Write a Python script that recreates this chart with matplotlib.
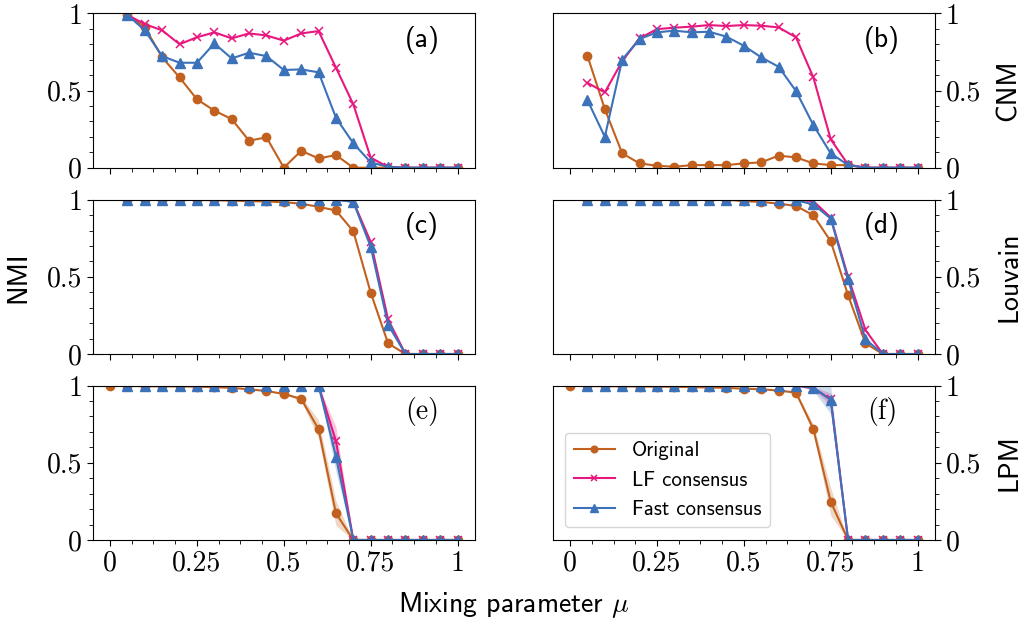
import matplotlib
matplotlib.use("Agg")
import matplotlib.pyplot as plt
from matplotlib.ticker import MultipleLocator

plt.rcParams["font.family"] = "cmss10"
plt.rcParams["mathtext.fontset"] = "cm"
plt.rcParams["axes.formatter.use_mathtext"] = True

# mixing parameter values
mu = [0.05, 0.10, 0.15, 0.20, 0.25, 0.30, 0.35, 0.40, 0.45, 0.50,
      0.55, 0.60, 0.65, 0.70, 0.75, 0.80, 0.85, 0.90, 0.95, 1.00]
mu0 = [0.0] + mu

# (a) CNM
orig_a = [0.99, 0.91, 0.715, 0.585, 0.443, 0.37, 0.315, 0.175, 0.197, 0.0,
          0.11, 0.06, 0.082, 0.0, 0, 0, 0, 0, 0, 0]
lf_a = [0.99, 0.93, 0.89, 0.80, 0.845, 0.877, 0.838, 0.87, 0.857, 0.823,
        0.87, 0.885, 0.648, 0.41, 0.065, 0.005, 0, 0, 0, 0]
fast_a = [0.99, 0.89, 0.723, 0.68, 0.68, 0.805, 0.708, 0.745, 0.723, 0.633,
          0.637, 0.618, 0.324, 0.158, 0.035, 0.005, 0, 0, 0, 0]

# (b) CNM
orig_b = [0.725, 0.38, 0.093, 0.028, 0.013, 0.006, 0.017, 0.017, 0.017, 0.028,
          0.035, 0.078, 0.067, 0.028, 0.017, 0.017, 0, 0, 0, 0]
lf_b = [0.55, 0.488, 0.69, 0.838, 0.898, 0.907, 0.914, 0.924, 0.918, 0.924,
        0.92, 0.909, 0.845, 0.585, 0.184, 0.02, 0, 0, 0, 0]
fast_b = [0.438, 0.20, 0.70, 0.834, 0.877, 0.888, 0.877, 0.881, 0.849, 0.79,
          0.715, 0.654, 0.497, 0.276, 0.093, 0.017, 0, 0, 0, 0]

# (c) Louvain
orig_c = [1.0, 1.0, 1.0, 1.0, 0.998, 0.996, 0.994, 0.99, 0.988, 0.983,
          0.974, 0.953, 0.93, 0.795, 0.397, 0.069, 0, 0, 0, 0]
lf_c = [1, 1, 1, 1, 1, 1, 1, 1, 1, 1,
        1, 1, 1, 0.987, 0.726, 0.224, 0, 0, 0, 0]
fast_c = [1, 1, 1, 1, 1, 1, 1, 1, 1, 1,
          1, 1, 1, 0.985, 0.694, 0.19, 0, 0, 0, 0]

# (d) Louvain
orig_d = [1, 1, 1, 1, 1, 1, 1, 1, 1, 0.99,
          0.985, 0.974, 0.959, 0.899, 0.73, 0.38, 0.069, 0, 0, 0]
lf_d = [1, 1, 1, 1, 1, 1, 1, 1, 1, 1,
        1, 1, 1, 0.99, 0.884, 0.5, 0.155, 0, 0, 0]
fast_d = [1, 1, 1, 1, 1, 1, 1, 1, 1, 1,
          1, 1, 0.995, 0.97, 0.877, 0.483, 0.095, 0, 0, 0]

# (e) LPM (original starts at mu = 0)
orig_e = [1.0, 0.998, 0.996, 0.995, 0.995, 0.993, 0.99, 0.985, 0.976, 0.965,
          0.946, 0.914, 0.717, 0.173, 0, 0, 0, 0, 0, 0, 0]
orig_e_sd = [0, 0, 0, 0, 0, 0, 0, 0, 0, 0,
             0, 0.015, 0.06, 0.08, 0, 0, 0, 0, 0, 0, 0]
lf_e = [1, 1, 1, 1, 1, 1, 1, 1, 1, 1,
        1, 1, 0.641, 0, 0, 0, 0, 0, 0, 0]
lf_e_sd = [0, 0, 0, 0, 0, 0, 0, 0, 0, 0,
           0, 0, 0.09, 0, 0, 0, 0, 0, 0, 0]
fast_e = [1, 1, 1, 1, 1, 1, 1, 1, 1, 1,
          1, 1, 0.54, 0, 0, 0, 0, 0, 0, 0]
fast_e_sd = [0, 0, 0, 0, 0, 0, 0, 0, 0, 0,
             0, 0, 0.10, 0, 0, 0, 0, 0, 0, 0]

# (f) LPM
orig_f = [1.0, 0.997, 0.996, 0.995, 0.994, 0.993, 0.992, 0.99, 0.988, 0.985,
          0.98, 0.976, 0.968, 0.955, 0.719, 0.248, 0, 0, 0, 0, 0]
orig_f_sd = [0, 0, 0, 0, 0, 0, 0, 0, 0, 0,
             0, 0, 0, 0.01, 0.03, 0.09, 0, 0, 0, 0, 0]
lf_f = [1, 1, 1, 1, 1, 1, 1, 1, 1, 1,
        1, 1, 1, 0.983, 0.911, 0, 0, 0, 0, 0]
lf_f_sd = [0, 0, 0, 0, 0, 0, 0, 0, 0, 0,
           0, 0, 0, 0.01, 0.04, 0, 0, 0, 0, 0]
fast_f = [1, 1, 1, 1, 1, 1, 1, 1, 1, 1,
          1, 1, 1, 0.987, 0.907, 0, 0, 0, 0, 0]
fast_f_sd = [0, 0, 0, 0, 0, 0, 0, 0, 0, 0,
             0, 0, 0, 0.02, 0.09, 0, 0, 0, 0, 0]

c_orig = "#c2611f"
c_lf = "#e8177e"
c_fast = "#3b72b9"

fig = plt.figure(figsize=(10.25, 6.27), dpi=100)
lefts = [0.0904, 0.5392]
bottoms = [0.7325, 0.4354, 0.1388]
w = 0.373
h = 0.2462

paneles = [
    ("(a)", mu, orig_a, None, mu, lf_a, None, fast_a, None),
    ("(b)", mu, orig_b, None, mu, lf_b, None, fast_b, None),
    ("(c)", mu, orig_c, None, mu, lf_c, None, fast_c, None),
    ("(d)", mu, orig_d, None, mu, lf_d, None, fast_d, None),
    ("(e)", mu0, orig_e, orig_e_sd, mu, lf_e, lf_e_sd, fast_e, fast_e_sd),
    ("(f)", mu0, orig_f, orig_f_sd, mu, lf_f, lf_f_sd, fast_f, fast_f_sd),
]
nombres_metodo = ["CNM", "Louvain", "LPM"]


def banda(ax, x, y, sd, color):
    if sd is None:
        return
    lo = [a - b for a, b in zip(y, sd)]
    hi = [min(a + b, 1.0) for a, b in zip(y, sd)]
    ax.fill_between(x, lo, hi, color=color, alpha=0.25, lw=0)


for i, (etiqueta, xo, yo, so, xc, ylf, slf, yfa, sfa) in enumerate(paneles):
    fila = i // 2
    col = i % 2
    ax = fig.add_axes([lefts[col], bottoms[fila], w, h])

    banda(ax, xo, yo, so, c_orig)
    banda(ax, xc, ylf, slf, c_lf)
    banda(ax, xc, yfa, sfa, c_fast)
    ax.plot(xo, yo, color=c_orig, marker="o", ms=6, lw=1.5, label="Original")
    ax.plot(xc, ylf, color=c_lf, marker="x", ms=6, mew=1.1, lw=1.5, label="LF consensus")
    ax.plot(xc, yfa, color=c_fast, marker="^", ms=7, lw=1.5, label="Fast consensus")

    ax.set_xlim(-0.05, 1.05)
    ax.set_ylim(0, 1)
    ax.set_xticks([0, 0.25, 0.5, 0.75, 1])
    ax.xaxis.set_minor_locator(MultipleLocator(0.0625))
    ax.set_yticks([0, 0.5, 1])
    ax.yaxis.set_minor_locator(MultipleLocator(0.1))
    ax.set_yticklabels(["0", "0.5", "1"])
    if fila == 2:
        ax.set_xticklabels(["0", "0.25", "0.5", "0.75", "1"])
    else:
        ax.set_xticklabels([])
    ax.tick_params(which="both", direction="out", labelsize=20,
                   labelfontfamily="cmr10")
    ax.tick_params(which="major", length=4)
    ax.tick_params(which="minor", length=3)

    if col == 1:
        ax.yaxis.tick_right()
        ax.yaxis.set_label_position("right")
        ax.set_ylabel(nombres_metodo[fila], fontsize=20, labelpad=11)

    fuente = "cmr10" if fila == 2 else "cmss10"
    ax.text(0.862, 0.83, etiqueta, transform=ax.transAxes, ha="center",
            va="center", fontsize=20, family=fuente)

    if i == 2:
        ax.set_ylabel("NMI", fontsize=20, labelpad=12)
    if i == 5:
        ax.legend(loc="lower left", fontsize=15, handlelength=2.0,
                  markerscale=0.8, borderaxespad=0.6)

fig.text(0.501, 0.035, r"Mixing parameter $\mu$", ha="center", va="center",
         fontsize=20)

fig.savefig("out.png", dpi=100)
